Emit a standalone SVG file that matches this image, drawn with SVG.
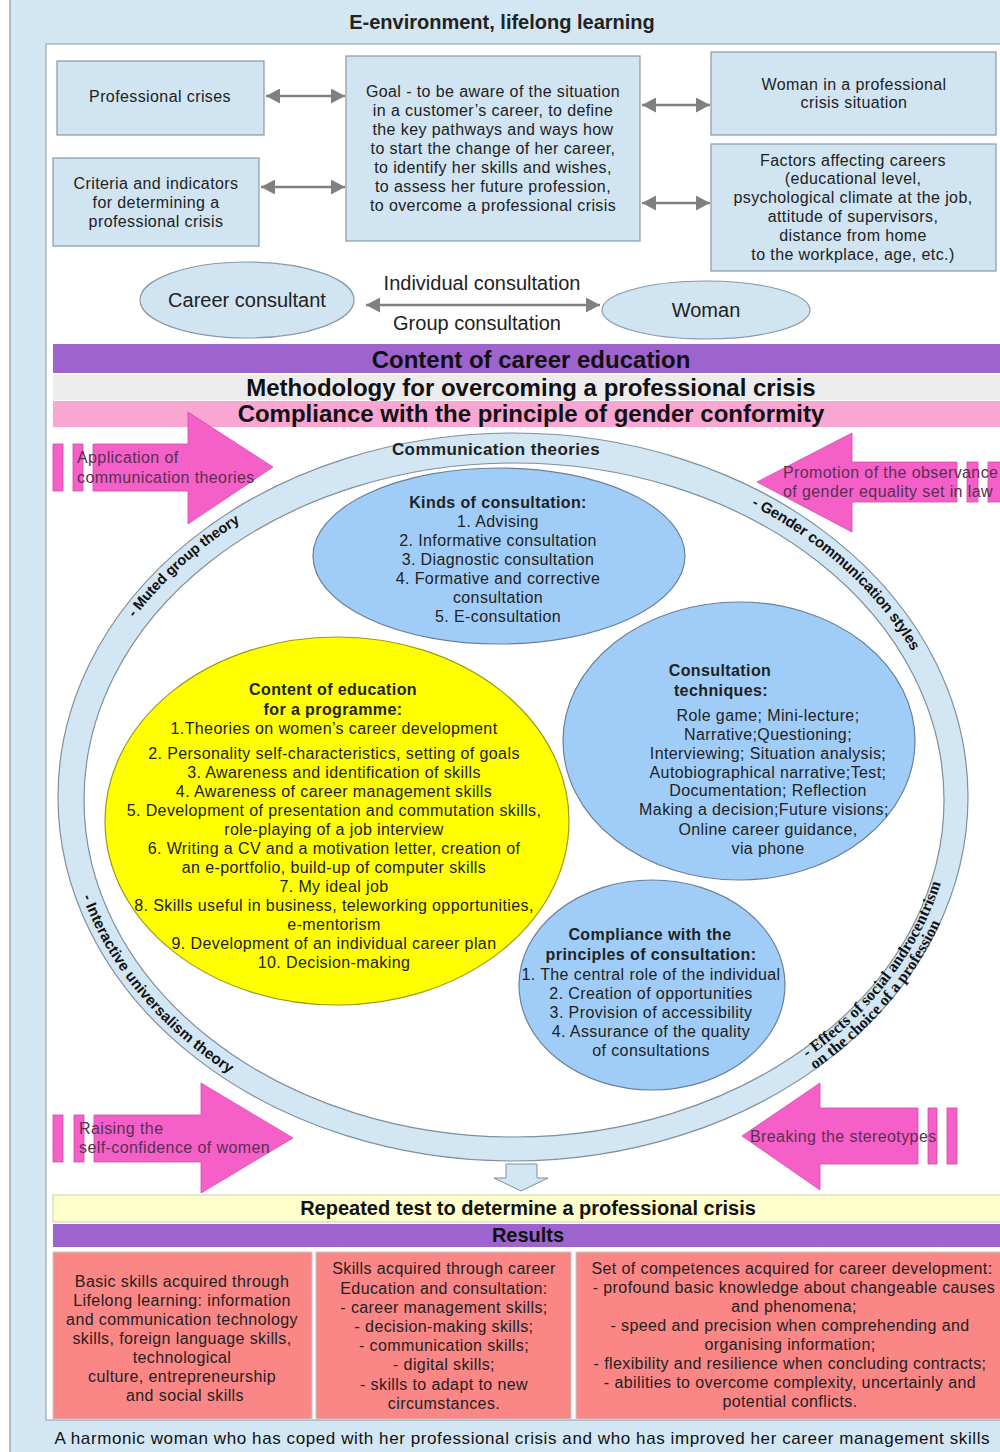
<svg xmlns="http://www.w3.org/2000/svg" width="1000" height="1452" viewBox="0 0 1000 1452">
<style>
.bg{fill:#d3e6f3;stroke:#8c9ba8;stroke-width:1.2}
.panel{fill:#fff;stroke:#9aa6b0;stroke-width:1.2}
.box{fill:#d0e4f1;stroke:#8a99a6;stroke-width:1.2}
.t{font-family:"Liberation Sans",Arial,sans-serif;font-size:16px;letter-spacing:.4px;fill:#222;text-anchor:middle;dominant-baseline:central}
.b{font-weight:bold}
.band{font-family:"Liberation Sans",Arial,sans-serif;font-size:24px;font-weight:bold;fill:#111;text-anchor:middle;dominant-baseline:central}
.pk{fill:#f460c8;stroke:#d44aa8;stroke-width:.8}
.pt{font-family:"Liberation Sans",Arial,sans-serif;font-size:16px;letter-spacing:.4px;fill:#5a2f52;dominant-baseline:central}
.ring{fill:#d3e6f3;stroke:#7f8f9c;stroke-width:1.2}
.inner{fill:#fff;stroke:#7f8f9c;stroke-width:1.2}
.bl{fill:#a0cdf7;stroke:#6a8099;stroke-width:1.2}
.rl{font-family:"Liberation Sans",Arial,sans-serif;font-weight:bold;font-size:14.5px;fill:#111;dominant-baseline:central}
.rs{font-family:"Liberation Serif","Times New Roman",serif;font-weight:bold;font-size:16px;fill:#111;dominant-baseline:central}
.red{fill:#fa8686;stroke:#c9c9c9;stroke-width:1}
.conn{stroke:#808080;stroke-width:2.5;fill:none;marker-start:url(#ah);marker-end:url(#ah)}
</style>
<defs>
<marker id="ah" viewBox="0 0 14 15" refX="14" refY="7.5" markerWidth="14" markerHeight="15" markerUnits="userSpaceOnUse" orient="auto-start-reverse"><path d="M0,0 L14,7.5 L0,15 z" fill="#808080"/></marker>
<path id="pMuted" d="M 73.8 736.2 A 446 356 0 0 1 360.5 463.5"/>
<path id="pGender" d="M 665.5 465.3 A 446 354 0 0 1 952.2 736.5"/>
<path id="pInter" d="M 71.4 812 A 442 350 0 0 0 307.5 1107.9"/>
<path id="pEff1" d="M 730.5 1095 A 435 343 0 0 0 948 798"/>
<path id="pEff2" d="M 716.8 1116.1 A 449 357 0 0 0 961.4 816.7"/>
</defs>

<rect x="0" y="0" width="1000" height="1452" fill="#fff"/>
<g id="environment">
<rect class="bg" x="10" y="-2" width="995" height="1458"/>
<text class="t b" x="502" y="22" style="font-size:20px;letter-spacing:0">E-environment, lifelong learning</text>
<rect class="panel" x="46" y="44" width="960" height="1376"/>
<text class="t" x="522" y="1438" style="font-size:17px;letter-spacing:0;fill:#111" textLength="935">A harmonic woman who has coped with her professional crisis and who has improved her career management skills</text>
</g>

<g id="professional-crises">
<rect class="box" x="57" y="61" width="207" height="74"/>
<text class="t" x="160" y="96">Professional crises</text>
</g>
<g id="criteria">
<rect class="box" x="53" y="158" width="206" height="88"/>
<text class="t"><tspan x="156" y="183">Criteria and indicators</tspan><tspan x="156" y="202">for determining a</tspan><tspan x="156" y="221">professional crisis</tspan></text>
</g>
<g id="goal">
<rect class="box" x="346" y="56" width="294" height="185"/>
<text class="t"><tspan x="493" y="91">Goal -  to be aware of the situation</tspan><tspan x="493" y="110">in a customer’s career, to define</tspan><tspan x="493" y="129">the key pathways  and ways how</tspan><tspan x="493" y="148">to start the change of her career,</tspan><tspan x="493" y="167">to identify her skills and wishes,</tspan><tspan x="493" y="186">to assess her future profession,</tspan><tspan x="493" y="205">to overcome a professional crisis</tspan></text>
</g>
<g id="woman-crisis">
<rect class="box" x="711" y="52" width="285" height="83"/>
<text class="t"><tspan x="854" y="84">Woman in a professional</tspan><tspan x="854" y="102">crisis situation</tspan></text>
</g>
<g id="factors">
<rect class="box" x="711" y="144" width="285" height="127"/>
<text class="t"><tspan x="853" y="160">Factors affecting careers</tspan><tspan x="853" y="178">(educational level,</tspan><tspan x="853" y="197">psychological  climate at the job,</tspan><tspan x="853" y="216">attitude of supervisors,</tspan><tspan x="853" y="235">distance from home</tspan><tspan x="853" y="254">to the workplace, age, etc.)</tspan></text>
</g>
<g id="career-consultant">
<ellipse class="box" cx="247" cy="300" rx="107" ry="38"/>
<text class="t" x="247" y="300" style="font-size:20px;letter-spacing:0">Career consultant</text>
</g>
<g id="woman">
<ellipse class="box" cx="706" cy="310" rx="104" ry="29"/>
<text class="t" x="706" y="310" style="font-size:20px;letter-spacing:0">Woman</text>
</g>

<g id="connectors">
<path class="conn" d="M 266 96 L 345 96"/>
<path class="conn" d="M 261 187 L 345 187"/>
<path class="conn" d="M 642 105 L 710 105"/>
<path class="conn" d="M 642 203 L 710 203"/>
<path class="conn" d="M 366 305 L 600 305"/>
<text class="t" x="482" y="283" style="font-size:20px;letter-spacing:0">Individual consultation</text>
<text class="t" x="477" y="323" style="font-size:20px;letter-spacing:0">Group consultation</text>
</g>

<g id="band-content">
<rect x="53" y="344" width="952" height="29" fill="#9c64cc"/>
<text class="band" x="531" y="359">Content of career education</text>
</g>
<g id="band-methodology">
<rect x="53" y="375" width="952" height="25" fill="#ececec"/>
<text class="band" x="531" y="387">Methodology for overcoming a professional crisis</text>
</g>
<g id="band-compliance">
<rect x="53" y="401" width="952" height="26" fill="#f9a6d2"/>
<text class="band" x="531" y="413">Compliance with the principle of gender conformity</text>
</g>

<g id="ring">
<ellipse class="ring" cx="513" cy="797" rx="455" ry="364"/>
<ellipse class="inner" cx="514" cy="800" rx="430" ry="337"/>
<text class="t b" x="496" y="449" style="font-size:17px">Communication theories</text>
<text class="rl"><textPath href="#pMuted" startOffset="50%" text-anchor="middle">- Muted group theory</textPath></text>
<text class="rl" style="font-size:15px"><textPath href="#pGender" startOffset="50%" text-anchor="middle">- Gender communication styles</textPath></text>
<text class="rl" style="font-size:15px"><textPath href="#pInter" startOffset="50%" text-anchor="middle">- Interactive universalism theory</textPath></text>
<text class="rs"><textPath href="#pEff1" startOffset="50%" text-anchor="middle">- Effects of social androcentrism</textPath></text>
<text class="rs"><textPath href="#pEff2" startOffset="50%" text-anchor="middle">on the choice of a profession</textPath></text>
</g>

<g id="kinds">
<ellipse class="bl" cx="499" cy="556" rx="186" ry="88"/>
<text class="t"><tspan class="b" x="498" y="502">Kinds of consultation:</tspan><tspan x="498" y="521">1. Advising</tspan><tspan x="498" y="540">2. Informative consultation</tspan><tspan x="498" y="559">3. Diagnostic consultation</tspan><tspan x="498" y="578">4. Formative and corrective</tspan><tspan x="498" y="597">consultation</tspan><tspan x="498" y="616">5. E-consultation</tspan></text>
</g>
<g id="techniques">
<ellipse class="bl" cx="739" cy="741" rx="176" ry="139"/>
<text class="t"><tspan class="b" x="720" y="670">Consultation</tspan><tspan class="b" x="721" y="690">techniques:</tspan><tspan x="768" y="715">Role game; Mini-lecture;</tspan><tspan x="768" y="734">Narrative;Questioning;</tspan><tspan x="768" y="753">Interviewing; Situation analysis;</tspan><tspan x="768" y="772">Autobiographical narrative;Test;</tspan><tspan x="768" y="790">Documentation; Reflection</tspan><tspan x="764" y="809">Making a decision;Future visions;</tspan><tspan x="768" y="829">Online career guidance,</tspan><tspan x="768" y="848">via phone</tspan></text>
</g>
<g id="education">
<ellipse cx="337" cy="821" rx="232" ry="184" fill="#ffff00" stroke="#9a9a20" stroke-width="1.2"/>
<text class="t"><tspan class="b" x="333" y="689">Content of education</tspan><tspan class="b" x="333" y="709">for a programme:</tspan><tspan x="334" y="728">1.Theories on women’s career development</tspan><tspan x="334" y="753">2. Personality self-characteristics, setting of goals</tspan><tspan x="334" y="772">3. Awareness and identification of skills</tspan><tspan x="334" y="791">4. Awareness of career management skills</tspan><tspan x="334" y="810">5. Development of presentation and commutation skills,</tspan><tspan x="334" y="829">role-playing of a job interview</tspan><tspan x="334" y="848">6. Writing a CV and a motivation letter, creation of</tspan><tspan x="334" y="867">an e-portfolio,  build-up of computer skills</tspan><tspan x="334" y="886">7. My ideal job</tspan><tspan x="334" y="905">8. Skills useful in business, teleworking opportunities,</tspan><tspan x="334" y="924">e-mentorism</tspan><tspan x="334" y="943">9. Development of an individual career plan</tspan><tspan x="334" y="962">10. Decision-making</tspan></text>
</g>
<g id="principles">
<ellipse class="bl" cx="652" cy="985" rx="133" ry="105"/>
<text class="t"><tspan class="b" x="650" y="934">Compliance with the</tspan><tspan class="b" x="651" y="954">principles of consultation:</tspan><tspan x="651" y="974">1. The central role of the individual</tspan><tspan x="651" y="993">2. Creation of opportunities</tspan><tspan x="651" y="1012">3. Provision of accessibility</tspan><tspan x="651" y="1031">4. Assurance of the quality</tspan><tspan x="651" y="1050">of consultations</tspan></text>
</g>

<g id="arrow-application">
<rect class="pk" x="53" y="444" width="10" height="47"/>
<rect class="pk" x="73" y="444" width="10" height="47"/>
<polygon class="pk" points="93,444 188,444 188,412 273,467 188,524 188,491 93,491"/>
<text class="pt"><tspan x="77" y="457">Application of</tspan><tspan x="77" y="477">communication theories</tspan></text>
</g>
<g id="arrow-promotion">
<rect class="pk" x="967" y="462" width="11" height="40"/>
<rect class="pk" x="988" y="462" width="14" height="40"/>
<polygon class="pk" points="957,462 852,462 852,433 757,482 852,532 852,502 957,502"/>
<text class="pt"><tspan x="783" y="472">Promotion of the observance</tspan><tspan x="783" y="491">of gender equality set in law</tspan></text>
</g>
<g id="arrow-raising">
<rect class="pk" x="53" y="1115" width="10" height="47"/>
<rect class="pk" x="74" y="1115" width="10" height="47"/>
<polygon class="pk" points="94,1115 201,1115 201,1083 293,1138 201,1193 201,1162 94,1162"/>
<text class="pt"><tspan x="79" y="1128">Raising the</tspan><tspan x="79" y="1147">self-confidence of women</tspan></text>
</g>
<g id="arrow-breaking">
<rect class="pk" x="928" y="1108" width="9" height="56"/>
<rect class="pk" x="947" y="1108" width="10" height="56"/>
<polygon class="pk" points="918,1108 820,1108 820,1083 742,1136 820,1190 820,1164 918,1164"/>
<text class="pt" x="750" y="1136">Breaking the stereotypes</text>
</g>

<g id="down-arrow">
<polygon points="506,1164 537,1164 537,1178 548,1178 521,1191 494,1178 506,1178" fill="#d3e6f3" stroke="#7f8f9c" stroke-width="1"/>
</g>

<g id="repeated-test">
<rect x="53" y="1195" width="952" height="27" fill="#ffffcc" stroke="#cfcfb0"/>
<text class="band" x="528" y="1208" style="font-size:20px">Repeated test to determine a professional crisis</text>
</g>
<g id="results">
<rect x="53" y="1224" width="952" height="23" fill="#9c64cc"/>
<text class="band" x="528" y="1235" style="font-size:20px">Results</text>
</g>
<g id="basic-skills">
<rect class="red" x="53" y="1252" width="259" height="167"/>
<text class="t"><tspan x="182" y="1281">Basic skills acquired through</tspan><tspan x="182" y="1300">Lifelong  learning: information</tspan><tspan x="182" y="1319">and communication  technology</tspan><tspan x="182" y="1338">skills,  foreign language skills,</tspan><tspan x="182" y="1357">technological</tspan><tspan x="182" y="1376">culture, entrepreneurship</tspan><tspan x="185" y="1395">and social skills</tspan></text>
</g>
<g id="career-skills">
<rect class="red" x="316" y="1252" width="255" height="167"/>
<text class="t"><tspan x="444" y="1268">Skills acquired through career</tspan><tspan x="444" y="1288">Education  and consultation:</tspan><tspan x="444" y="1307">- career management skills;</tspan><tspan x="444" y="1326">- decision-making skills;</tspan><tspan x="444" y="1345">- communication skills;</tspan><tspan x="444" y="1364">- digital skills;</tspan><tspan x="444" y="1384">- skills to adapt to new</tspan><tspan x="444" y="1403">circumstances.</tspan></text>
</g>
<g id="competences">
<rect class="red" x="576" y="1252" width="430" height="167"/>
<text class="t"><tspan x="792" y="1268">Set of competences acquired for career development:</tspan><tspan x="794" y="1287">- profound basic knowledge about changeable causes</tspan><tspan x="794" y="1306">and phenomena;</tspan><tspan x="790" y="1325">- speed and precision when comprehending and</tspan><tspan x="790" y="1344">organising information;</tspan><tspan x="790" y="1363">- flexibility and resilience when concluding contracts;</tspan><tspan x="790" y="1382">- abilities to overcome complexity, uncertainly and</tspan><tspan x="790" y="1401">potential conflicts.</tspan></text>
</g>
</svg>
